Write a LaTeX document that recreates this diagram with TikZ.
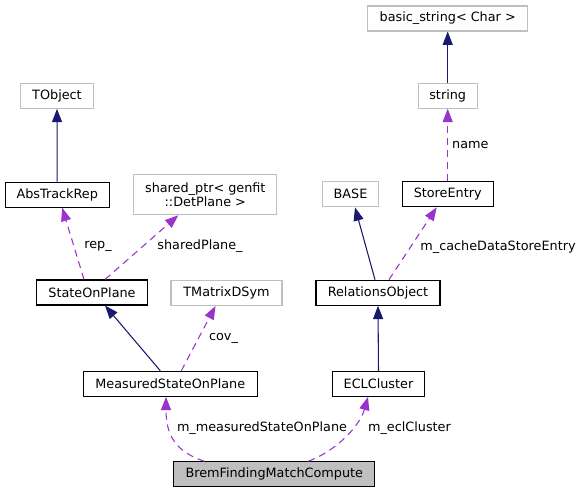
\documentclass[tikz,border=0pt]{standalone}
\usepackage{fontspec}
\setmainfont{DejaVu Sans}
\usetikzlibrary{arrows.meta,calc}
\definecolor{navyedge}{HTML}{191970}
\definecolor{orchidedge}{HTML}{9A32CD}
\definecolor{graybox}{HTML}{BFBFBF}
\tikzset{
  cls/.style={draw=black, line width=0.8pt, inner sep=0pt, minimum height=25*0.75pt, align=center, font=\fontsize{9.6}{11}\selectfont},
  ext/.style={cls, draw=graybox},
  focus/.style={cls, fill=graybox},
  inh/.style={navyedge, line width=0.8pt, -{Triangle[length=10pt,width=7.5pt]}},
  usee/.style={orchidedge, line width=0.8pt, dash pattern=on 5.25pt off 3.75pt, -{Triangle[length=10pt,width=7.5pt]}},
  lbl/.style={inner sep=0pt, text=black, font=\fontsize{9.6}{11}\selectfont}
}
\begin{document}
\begin{tikzpicture}[x=0.75pt,y=-0.75pt]
\useasboundingbox (0,0) rectangle (583,493);
% nodes
\node[ext, minimum width=160*0.75pt] (bstr) at (447.7,18.5) {basic\_string< Char >};
\node[ext, minimum width=58.7*0.75pt] (str) at (447.7,95.7) {string};
\node[ext, minimum width=56.4*0.75pt] (base) at (350.5,194.3) {BASE};
\node[cls, minimum width=91.3*0.75pt] (se) at (447.7,194.3) {StoreEntry};
\node[cls, minimum width=124*0.75pt] (ro) at (378,292.7) {RelationsObject};
\node[ext, minimum width=72.6*0.75pt] (tobj) at (57,95.8) {TObject};
\node[cls, minimum width=104.3*0.75pt] (atr) at (57.2,194.7) {AbsTrackRep};
\node[ext, minimum width=142.7*0.75pt, minimum height=40*0.75pt] (sp) at (205.3,194.7) {shared\_ptr< genfit\\::DetPlane >};
\node[cls, minimum width=110.6*0.75pt] (sop) at (92,292.5) {StateOnPlane};
\node[ext, minimum width=111*0.75pt] (tm) at (226.5,293) {TMatrixDSym};
\node[cls, minimum width=174*0.75pt] (msop) at (170.3,383.8) {MeasuredStateOnPlane};
\node[cls, minimum width=92.4*0.75pt] (ecl) at (378.5,383.8) {ECLCluster};
\node[focus, minimum width=201.3*0.75pt] (brem) at (274.3,474.3) {BremFindingMatchCompute};
% edges
\draw[inh] (str.north) -- (bstr.south);
\draw[usee] (se.north) -- node[lbl, anchor=west, xshift=3pt] {name} (str.south);
\draw[inh] (atr.north) -- (tobj.south);
\draw[usee] ($(sop.north)+(-8,0)$) -- ($(atr.south)+(5,0)$);
\node[lbl] (lrep) at (98,246.7) {rep\_};
\draw[usee] ($(sop.north)+(13,0)$) -- ($(sp.south)+(-27,0)$);
\node[lbl] (lsp) at (200,246.5) {sharedPlane\_};
\draw[inh] ($(msop.north)+(-10,0)$) -- ($(sop.south)+(13,0)$);
\draw[usee] ($(msop.north)+(11,0)$) -- ($(tm.south)+(-11,0)$);
\node[lbl] (lcov) at (223.5,338) {cov\_};
\draw[inh] ($(ro.north)+(-3,0)$) -- ($(base.south)+(4.5,0)$);
\draw[usee] ($(ro.north)+(11,0)$) -- ($(se.south)+(-11,0)$);
\node[lbl] (lcache) at (498,247) {m\_cacheDataStoreEntry};
\draw[inh] (ecl.north) -- (ro.south);
\draw[usee] ($(brem.north)+(-70,0)$) .. controls (177,452) and (166,437) .. ($(msop.south)+(-4.3,0)$);
\node[lbl] (lmsop) at (262,428) {m\_measuredStateOnPlane};
\draw[usee] ($(brem.north)+(34,0)$) .. controls (338,450) and (360,425) .. ($(ecl.south)+(-10.5,0)$);
\node[lbl] (lecl) at (409.5,428) {m\_eclCluster};
\end{tikzpicture}
\end{document}
